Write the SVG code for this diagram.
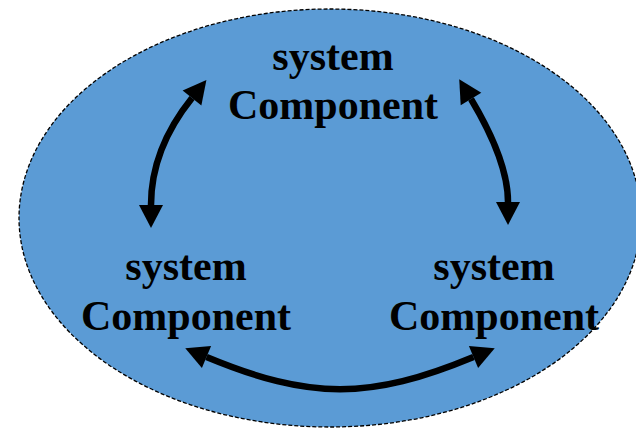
<svg xmlns="http://www.w3.org/2000/svg" width="636" height="428" viewBox="0 0 636 428">
<style>
.lbl{font-family:"Liberation Serif","Times New Roman",serif;font-weight:bold;font-size:42px;fill:#000;text-anchor:middle}
.con{fill:none;stroke:#000;stroke-width:6.5}
</style>
<defs>
<marker id="ah" markerUnits="userSpaceOnUse" markerWidth="26" markerHeight="26" viewBox="0 -13 24 26" refX="0" refY="0" orient="auto-start-reverse">
<path d="M0,-12 L23,0 L0,12 Z" fill="#000"/>
</marker>
</defs>
<g id="boundary">
<ellipse cx="330" cy="218" rx="311" ry="209" fill="#5B9BD5" stroke="#000" stroke-width="1.3" stroke-dasharray="4,2"/>
</g>
<g id="node-top">
<text class="lbl" x="333" y="70">system</text>
<text class="lbl" x="333" y="119">Component</text>
</g>
<g id="node-left">
<text class="lbl" x="186" y="280">system</text>
<text class="lbl" x="186" y="330">Component</text>
</g>
<g id="node-right">
<text class="lbl" x="494" y="280">system</text>
<text class="lbl" x="494" y="330">Component</text>
</g>
<g id="connectors">
<path class="con" d="M151,205 Q151,149 192,98" marker-start="url(#ah)" marker-end="url(#ah)"/>
<path class="con" d="M471,99 Q508,161 508,202" marker-start="url(#ah)" marker-end="url(#ah)"/>
<path class="con" d="M206.5,357 C310,400 370,400 473.5,357" marker-start="url(#ah)" marker-end="url(#ah)"/>
</g>
</svg>
